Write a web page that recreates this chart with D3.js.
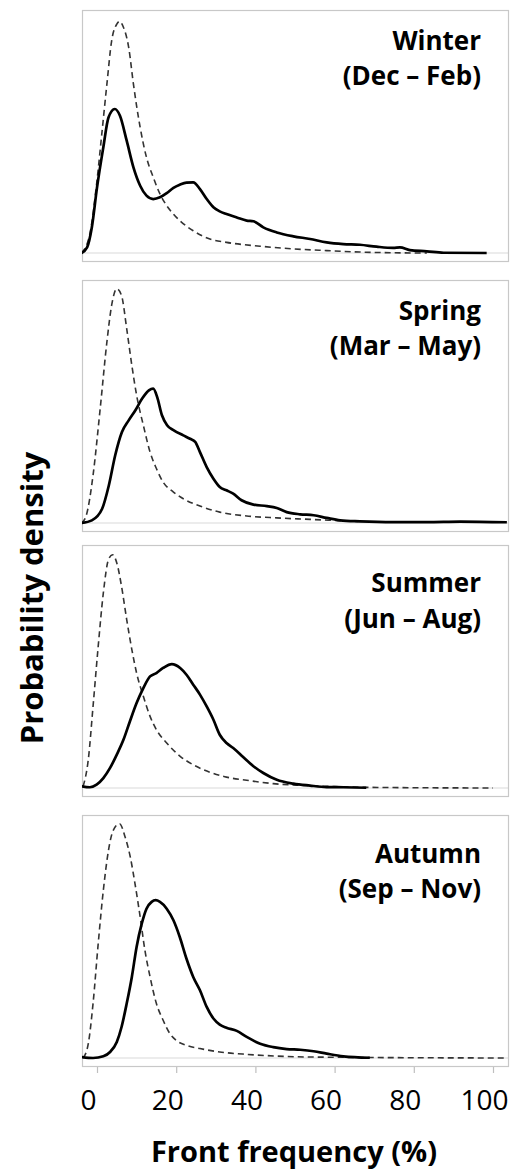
<!DOCTYPE html>
<html>
<head>
<meta charset="utf-8">
<script src="https://cdn.jsdelivr.net/npm/d3@7"></script>
<style>
  html, body { margin: 0; padding: 0; background: #fff; }
  svg { display: block; }
  text { font-family: "Open Sans", Lato, sans-serif; fill: #000; }
</style>
</head>
<body>
<svg id="chart" width="516" height="1169"></svg>
<script>
// ---------- DATA ----------
const seasons = ["Winter", "Spring", "Summer", "Autumn"];
const seasonMonths = ["(Dec \u2013 Feb)", "(Mar \u2013 May)", "(Jun \u2013 Aug)", "(Sep \u2013 Nov)"];
const xTicks = [0, 20, 40, 60, 80, 100];
const xTitle = "Front frequency (%)";
const yTitle = "Probability density";

// solid curves: [front frequency %, density]
const winterSolid = [[-3.9,0],[-2.5,0.0023],[-1.3,0.0106],[0,0.027],[1.6,0.0437],[2.9,0.056],[4.5,0.0595],[5.8,0.0567],[7.5,0.0464],[9.2,0.0354],[10.9,0.0278],[12.5,0.0237],[14.2,0.0223],[15.9,0.023],[17.6,0.0247],[19.3,0.0269],[20.9,0.0282],[22.6,0.0291],[24.3,0.0292],[26,0.0264],[27.7,0.0223],[29.4,0.0189],[31,0.0172],[32.7,0.0161],[35.3,0.0147],[37.8,0.0134],[39.5,0.0131],[42,0.0106],[45.4,0.0085],[49.6,0.0069],[53.8,0.0058],[58,0.0044],[62.2,0.0037],[66.4,0.0034],[70.6,0.0026],[74.8,0.0021],[76.5,0.0023],[79,0.0012],[83.3,0.0007],[87.5,0.0001],[98.4,0]];
const springSolid = [[-3.9,0],[-1.3,0.0011],[1.3,0.0059],[3,0.0156],[4.6,0.028],[6.3,0.0376],[8,0.0424],[9.7,0.0466],[11.4,0.0514],[13.1,0.0548],[14.2,0.0555],[15.2,0.052],[16.4,0.0445],[17.7,0.0404],[19.4,0.0383],[21.8,0.0362],[23.5,0.0348],[24.8,0.0335],[26,0.0293],[27.7,0.0231],[29.4,0.0183],[31,0.0149],[32.7,0.0135],[34.4,0.0121],[36.5,0.0094],[39.5,0.0076],[42.9,0.007],[45.4,0.0062],[47.9,0.0045],[51.3,0.0036],[54.7,0.0032],[58,0.0021],[61.4,0.0011],[66.4,0.0007],[74.8,0.0004],[83.3,0.0004],[91.7,0.0006],[103.5,0.0003]];
const summerSolid = [[-3.9,0.0007],[-1.8,0.0003],[-0.1,0.0014],[1.6,0.0041],[3.3,0.0083],[5,0.0138],[6.7,0.02],[8.3,0.0275],[10,0.0351],[11.7,0.0413],[13.4,0.0461],[15,0.0475],[16.7,0.0496],[18.9,0.0512],[21,0.0496],[22.6,0.0468],[24.3,0.0427],[26,0.0386],[27.7,0.0337],[29.4,0.0282],[31,0.022],[32.7,0.0186],[34.4,0.0165],[36.9,0.0128],[39.5,0.009],[42,0.0062],[45.4,0.0034],[49.6,0.0018],[53.8,0.001],[58,0.0004],[62.2,0.0003],[68,0.0001]];
const autumnSolid = [[-3.9,0.0004],[-1,0],[1.6,0.0007],[3.3,0.0025],[5,0.0066],[6.2,0.0128],[7.5,0.0225],[8.8,0.0335],[10,0.0459],[11.3,0.0555],[12.5,0.0617],[13.8,0.0645],[14.8,0.0652],[15.9,0.0645],[17.6,0.0617],[19.3,0.0569],[20.9,0.05],[22.6,0.041],[24.3,0.0335],[26,0.028],[27.7,0.0211],[29.4,0.0163],[31,0.0138],[32.7,0.0125],[35.3,0.0112],[37.8,0.0087],[41.2,0.0059],[44.5,0.0045],[47.9,0.0037],[51.3,0.0034],[54.7,0.0028],[58,0.0018],[62.2,0.0007],[68.9,0.0001]];

// dashed curves
const winterDashed = [[-3.9,0],[-1.8,0.0079],[-0.1,0.0285],[1.2,0.049],[2.5,0.0698],[3.7,0.0877],[5,0.0946],[5.7,0.0957],[6.7,0.0932],[8,0.085],[9.2,0.0698],[10.9,0.0519],[12.5,0.0395],[14.2,0.0313],[15.9,0.0244],[17.6,0.0196],[19.3,0.0161],[20.9,0.0134],[24.3,0.0092],[28.5,0.0058],[32.7,0.0044],[41.2,0.0028],[49.6,0.0017],[58,0.001],[66.4,0.0004],[74.8,0.0001],[83.3,0]];
const springDashed = [[-3.9,0],[-2.7,0.0032],[-1,0.0197],[0.8,0.0472],[2.5,0.0748],[3.7,0.09],[5,0.0968],[6.2,0.094],[7.5,0.0803],[8.8,0.0651],[10,0.0528],[11.7,0.0404],[13.4,0.0293],[15,0.0225],[16.7,0.0169],[19.3,0.0128],[21.8,0.01],[26,0.007],[31,0.0045],[37.8,0.0029],[45.4,0.0021],[53.8,0.0015],[60.5,0.001],[66,0.0006]];
const summerDashed = [[-3.5,0.0007],[-2.2,0.0117],[-1,0.0337],[0.3,0.0585],[1.6,0.0806],[2.9,0.0944],[3.9,0.0964],[5,0.093],[6.2,0.0833],[7.5,0.0696],[8.8,0.0572],[10,0.0475],[11.7,0.0379],[13.4,0.0296],[15,0.0241],[17.6,0.0186],[21,0.0131],[24.3,0.0096],[28.5,0.0065],[32.7,0.0045],[37.8,0.0032],[44.5,0.0018],[51.3,0.0011],[58,0.0007],[66.4,0.0003],[100,0]];
const autumnDashed = [[-3.5,0],[-2.2,0.0059],[-1,0.0225],[0.3,0.0472],[1.6,0.0693],[2.9,0.0858],[4.1,0.0941],[5.7,0.0968],[7.1,0.0913],[8.4,0.0831],[9.6,0.072],[10.9,0.0583],[12.1,0.0445],[13.4,0.0335],[15,0.0225],[16.7,0.0156],[18.4,0.0101],[20,0.0073],[22.6,0.0052],[26,0.0039],[31,0.0025],[37.8,0.0015],[45.4,0.0008],[53.8,0.0004],[103.5,0]];

const solidSeries = [winterSolid, springSolid, summerSolid, autumnSolid];
const dashedSeries = [winterDashed, springDashed, summerDashed, autumnDashed];

// ---------- LAYOUT ----------
const svg = d3.select("#chart");
const boxLeft = 82, boxRight = 509;
const panelTops = [10, 280, 545, 815];
const panelH = 252;
const baseOffset = 243;   // baseline distance from panel top
const yPix = 242;         // pixels for density 0..0.1
const labelOffsets = [[40, 75], [40, 75], [47, 83], [48, 83]];

const x = d3.scaleLinear().domain([0, 100]).range([97, 493]);

const line = (ys) => d3.line()
  .x(d => x(d[0]))
  .y(d => ys(d[1]))
  .curve(d3.curveMonotoneX);

seasons.forEach((s, i) => {
  const top = panelTops[i];
  const y = d3.scaleLinear().domain([0, 0.1]).range([top + baseOffset, top + baseOffset - yPix]);
  const g = svg.append("g");

  const clipId = "clip" + i;
  svg.append("clipPath").attr("id", clipId)
    .append("rect").attr("x", boxLeft).attr("y", top).attr("width", boxRight - boxLeft).attr("height", panelH);

  // baseline
  g.append("line")
    .attr("x1", boxLeft).attr("x2", boxRight)
    .attr("y1", y(0)).attr("y2", y(0))
    .attr("stroke", "#d9d9d9").attr("stroke-width", 1.2);

  // frame
  g.append("rect")
    .attr("x", boxLeft + 0.5).attr("y", top + 0.5)
    .attr("width", boxRight - boxLeft - 1).attr("height", panelH - 1)
    .attr("fill", "none").attr("stroke", "#c8c8c8").attr("stroke-width", 1.2);

  const cg = g.append("g").attr("clip-path", `url(#${clipId})`);
  cg.append("path").datum(dashedSeries[i])
    .attr("d", line(y))
    .attr("fill", "none").attr("stroke", "#333").attr("stroke-width", 1.6)
    .attr("stroke-dasharray", "6,4");
  cg.append("path").datum(solidSeries[i])
    .attr("d", line(y))
    .attr("fill", "none").attr("stroke", "#000").attr("stroke-width", 2.7)
    .attr("stroke-linejoin", "round");

  g.append("text")
    .attr("x", 481).attr("y", top + labelOffsets[i][0])
    .attr("text-anchor", "end")
    .attr("font-size", 26).attr("font-weight", "bold")
    .text(s);
  g.append("text")
    .attr("x", 481).attr("y", top + labelOffsets[i][1])
    .attr("text-anchor", "end")
    .attr("font-size", 26).attr("font-weight", "bold")
    .text(seasonMonths[i]);
});

// x axis under last panel
const axisY = panelTops[3] + panelH;
const xAxis = d3.axisBottom(x).tickValues(xTicks).tickSize(6).tickPadding(17).tickFormat(d3.format("d"));
const ax = svg.append("g").attr("transform", `translate(0,${axisY})`).call(xAxis);
ax.select(".domain").remove();
ax.selectAll(".tick line").attr("stroke", "#bfbfbf").attr("stroke-width", 1.2);
ax.selectAll(".tick text")
  .attr("font-family", "'Open Sans', Lato, sans-serif")
  .attr("font-size", 28).attr("fill", "#000").attr("dx", -9);

svg.append("text")
  .attr("x", 294).attr("y", 1162)
  .attr("text-anchor", "middle")
  .attr("font-size", 29).attr("font-weight", "bold")
  .text(xTitle);

svg.append("text")
  .attr("transform", "translate(43,598) rotate(-90)")
  .attr("text-anchor", "middle")
  .attr("font-size", 31).attr("font-weight", "bold")
  .text(yTitle);
</script>
</body>
</html>
